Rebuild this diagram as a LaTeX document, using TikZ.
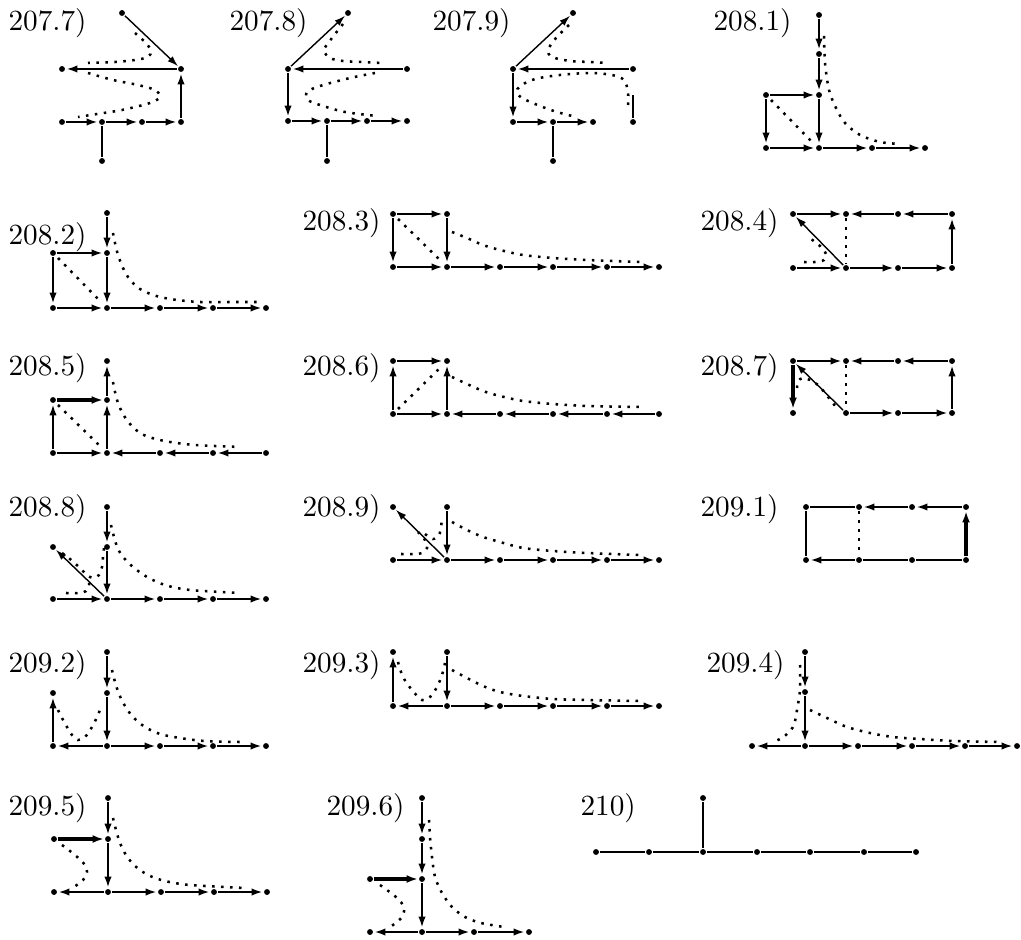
\documentclass[tikz,border=0pt]{standalone}
\usepackage{fontspec}
\usepackage{tikz}
\usetikzlibrary{arrows.meta}

\begin{document}
\begin{tikzpicture}[
  x=0.125mm, y=-0.125mm,
  pt/.style   = {circle, fill=black, inner sep=0pt, minimum size=2.1pt, outer sep=0.4pt},
  lab/.style  = {anchor=base west, inner sep=0pt, font=\fontsize{10.4}{12}\selectfont},
  arr/.style  = {-{Latex[length=4pt,width=2.6pt]}, line width=1.05pt},
  harr/.style = {-{Latex[length=4pt,width=2.8pt]}, line width=1.4pt},
  tarr/.style = {-{Latex[length=3.8pt,width=2.5pt]}, line width=0.5pt},
  ln/.style   = {line width=1.05pt},
  dots/.style = {line width=0.9pt, dash pattern=on 0.9pt off 2.3pt}
]
\useasboundingbox (0,0) rectangle (1021,940);

%% 207.7
\node[lab] (t77) at (8,31) {207.7)};
\node[pt] (A1) at (122,13) {};
\node[pt] (A2) at (62,69) {};  \node[pt] (A3) at (181,69) {};
\node[pt] (A4) at (62,122) {}; \node[pt] (A5) at (102,122) {};
\node[pt] (A6) at (142,122) {}; \node[pt] (A7) at (181,122) {};
\node[pt] (A8) at (102,161) {};
\draw[tarr] (A1) -- (A3);
\draw[arr] (A3) -- (A2);
\draw[arr] (A7) -- (A3);
\draw[arr] (A4) -- (A5);
\draw[arr] (A5) -- (A6);
\draw[arr] (A6) -- (A7);
\draw[ln] (A5) -- (A8);
\draw[dots] plot[smooth] coordinates {(135,33) (146,43) (151,51) (148,57) (135,60) (115,62) (88,63)};
\draw[dots] plot[smooth] coordinates {(88,73) (113,80) (138,85) (155,90) (160,97) (150,103) (122,110) (97,114) (78,117)};

%% 207.8
\node[lab] (t78) at (229,31) {207.8)};
\node[pt] (B1) at (348,13) {};
\node[pt] (B2) at (288,69) {};  \node[pt] (B3) at (407,69) {};
\node[pt] (B4) at (288,121) {}; \node[pt] (B5) at (327,121) {};
\node[pt] (B6) at (367,121) {}; \node[pt] (B7) at (407,121) {};
\node[pt] (B8) at (327,161) {};
\draw[tarr] (B2) -- (B1);
\draw[arr] (B3) -- (B2);
\draw[arr] (B2) -- (B4);
\draw[arr] (B4) -- (B5);
\draw[arr] (B5) -- (B6);
\draw[arr] (B6) -- (B7);
\draw[ln] (B5) -- (B8);
\draw[dots] plot[smooth] coordinates {(343,24) (332,38) (324,50) (330,58) (343,61) (362,62) (382,63)};
\draw[dots] plot[smooth] coordinates {(375,73) (350,78) (320,86) (307,92) (308,100) (320,105) (345,112) (377,116)};

%% 207.9
\node[lab] (t79) at (432,31) {207.9)};
\node[pt] (C1) at (573,13) {};
\node[pt] (C2) at (513,69) {};  \node[pt] (C3) at (633,69) {};
\node[pt] (C4) at (513,122) {}; \node[pt] (C5) at (553,122) {};
\node[pt] (C6) at (593,122) {}; \node[pt] (C8) at (633,122) {};
\node[pt] (C7) at (553,161) {};
\coordinate (C9) at (633,95);
\draw[tarr] (C2) -- (C1);
\draw[arr] (C3) -- (C2);
\draw[arr] (C2) -- (C4);
\draw[arr] (C4) -- (C5);
\draw[arr] (C5) -- (C6);
\draw[ln] (C5) -- (C7);
\draw[ln] (C8) -- (C9);
\draw[dots] plot[smooth] coordinates {(569,25) (556,38) (548,50) (552,57) (570,61) (590,62) (607,63)};
\draw[dots] plot[smooth] coordinates {(628,105) (628,92) (624,80) (612,75) (590,73) (560,75) (535,79) (520,86) (517,92) (522,98) (540,106) (557,112) (572,116)};

%% 208.1
\node[lab] (t81) at (713,31) {208.1)};
\node[pt] (D1) at (819,15) {};
\node[pt] (D2) at (819,54) {};
\node[pt] (D4) at (766,95) {};  \node[pt] (D3) at (819,95) {};
\node[pt] (D5) at (766,148) {}; \node[pt] (D6) at (819,148) {};
\node[pt] (D7) at (872,148) {}; \node[pt] (D8) at (925,148) {};
\draw[arr] (D1) -- (D2);
\draw[arr] (D2) -- (D3);
\draw[arr] (D3) -- (D6);
\draw[arr] (D4) -- (D3);
\draw[arr] (D4) -- (D5);
\draw[arr] (D5) -- (D6);
\draw[arr] (D6) -- (D7);
\draw[arr] (D7) -- (D8);
\draw[dots] (771,100) -- (813,143);
\draw[dots] plot[smooth] coordinates {(824,36) (825,63) (829,90) (836,108) (845,123) (860,135) (880,142) (900,144)};

%% 208.2
\node[lab] (t82) at (8,245) {208.2)};
\node[pt] (E1) at (107,213) {};
\node[pt] (E3) at (53,253) {};  \node[pt] (E2) at (107,253) {};
\node[pt] (E4) at (53,308) {};  \node[pt] (E5) at (107,308) {};
\node[pt] (E6) at (160,308) {}; \node[pt] (E7) at (213,308) {};
\node[pt] (E8) at (266,308) {};
\draw[arr] (E1) -- (E2);
\draw[arr] (E2) -- (E5);
\draw[arr] (E3) -- (E2);
\draw[arr] (E3) -- (E4);
\draw[arr] (E4) -- (E5);
\draw[arr] (E5) -- (E6);
\draw[arr] (E6) -- (E7);
\draw[arr] (E7) -- (E8);
\draw[dots] (58,258) -- (102,303);
\draw[dots] plot[smooth] coordinates {(113,233) (115,243) (118,255) (123,268) (128,277) (137,287) (148,293) (160,297) (177,300) (200,302) (233,302) (258,302)};

%% 208.3
\node[lab] (t83) at (302,231) {208.3)};
\node[pt] (F1) at (393,214) {}; \node[pt] (F2) at (447,214) {};
\node[pt] (F3) at (393,267) {}; \node[pt] (F4) at (447,267) {};
\node[pt] (F5) at (500,267) {}; \node[pt] (F6) at (553,267) {};
\node[pt] (F7) at (607,267) {}; \node[pt] (F8) at (659,267) {};
\draw[arr] (F1) -- (F2);
\draw[arr] (F1) -- (F3);
\draw[arr] (F2) -- (F4);
\draw[arr] (F3) -- (F4);
\draw[arr] (F4) -- (F5);
\draw[arr] (F5) -- (F6);
\draw[arr] (F6) -- (F7);
\draw[arr] (F7) -- (F8);
\draw[dots] (398,219) -- (442,262);
\draw[dots] plot[smooth] coordinates {(452,232) (467,238) (483,245) (500,250) (523,255) (553,258) (587,260) (640,262)};

%% 208.4
\node[lab] (t84) at (700,231) {208.4)};
\node[pt] (G1) at (793,214) {}; \node[pt] (G2) at (846,214) {};
\node[pt] (G3) at (898,214) {}; \node[pt] (G4) at (952,214) {};
\node[pt] (G5) at (793,268) {}; \node[pt] (G6) at (846,268) {};
\node[pt] (G7) at (898,268) {}; \node[pt] (G8) at (952,268) {};
\draw[arr] (G1) -- (G2);
\draw[arr] (G3) -- (G2);
\draw[arr] (G4) -- (G3);
\draw[arr] (G8) -- (G4);
\draw[arr] (G5) -- (G6);
\draw[arr] (G6) -- (G7);
\draw[arr] (G7) -- (G8);
\draw[tarr] (G6) -- (G1);
\draw[dots] (G2) -- (G6);
\draw[dots] plot[smooth] coordinates {(804,262) (815,262) (824,260) (826,254) (820,246) (811,239)};

%% 208.5
\node[lab] (t85) at (8,376) {208.5)};
\node[pt] (H1) at (107,361) {};
\node[pt] (H3) at (53,400) {};  \node[pt] (H2) at (107,400) {};
\node[pt] (H4) at (53,453) {};  \node[pt] (H5) at (107,453) {};
\node[pt] (H6) at (160,453) {}; \node[pt] (H7) at (213,453) {};
\node[pt] (H8) at (266,453) {};
\draw[arr] (H2) -- (H1);
\draw[arr] (H5) -- (H2);
\draw[harr] (H3) -- (H2);
\draw[arr] (H4) -- (H3);
\draw[arr] (H4) -- (H5);
\draw[arr] (H6) -- (H5);
\draw[arr] (H7) -- (H6);
\draw[arr] (H8) -- (H7);
\draw[dots] (58,405) -- (102,448);
\draw[dots] plot[smooth] coordinates {(113,382) (115,392) (118,403) (123,414) (130,424) (140,433) (152,438) (170,442) (195,445) (240,447)};

%% 208.6
\node[lab] (t86) at (302,376) {208.6)};
\node[pt] (I1) at (393,361) {}; \node[pt] (I2) at (447,361) {};
\node[pt] (I3) at (393,414) {}; \node[pt] (I4) at (447,414) {};
\node[pt] (I5) at (500,414) {}; \node[pt] (I6) at (553,414) {};
\node[pt] (I7) at (607,414) {}; \node[pt] (I8) at (659,414) {};
\draw[arr] (I1) -- (I2);
\draw[arr] (I3) -- (I1);
\draw[arr] (I4) -- (I2);
\draw[arr] (I3) -- (I4);
\draw[arr] (I5) -- (I4);
\draw[arr] (I6) -- (I5);
\draw[arr] (I7) -- (I6);
\draw[arr] (I8) -- (I7);
\draw[dots] (398,409) -- (442,366);
\draw[dots] plot[smooth] coordinates {(452,377) (467,384) (483,391) (500,396) (523,401) (553,404) (587,406) (640,407)};

%% 208.7
\node[lab] (t87) at (700,376) {208.7)};
\node[pt] (J1) at (793,361) {}; \node[pt] (J2) at (846,361) {};
\node[pt] (J3) at (898,361) {}; \node[pt] (J4) at (952,361) {};
\node[pt] (J5) at (793,413) {}; \node[pt] (J6) at (846,413) {};
\node[pt] (J7) at (898,413) {}; \node[pt] (J8) at (952,413) {};
\draw[arr] (J1) -- (J2);
\draw[arr] (J3) -- (J2);
\draw[arr] (J4) -- (J3);
\draw[harr] (J1) -- (J5);
\draw[arr] (J8) -- (J4);
\draw[arr] (J6) -- (J7);
\draw[arr] (J7) -- (J8);
\draw[tarr] (J6) -- (J1);
\draw[dots] (J2) -- (J6);
\draw[dots] plot[smooth] coordinates {(797,388) (798,381) (803,378) (810,380) (818,385) (825,393) (832,402) (836,407)};

%% 208.8
\node[lab] (t88) at (8,517) {208.8)};
\node[pt] (K1) at (107,507) {};
\node[pt] (K3) at (53,547) {};  \node[pt] (K2) at (107,547) {};
\node[pt] (K4) at (53,599) {};  \node[pt] (K5) at (107,599) {};
\node[pt] (K6) at (160,599) {}; \node[pt] (K7) at (213,599) {};
\node[pt] (K8) at (266,599) {};
\draw[arr] (K1) -- (K2);
\draw[arr] (K2) -- (K5);
\draw[tarr] (K5) -- (K3);
\draw[arr] (K4) -- (K5);
\draw[arr] (K5) -- (K6);
\draw[arr] (K6) -- (K7);
\draw[arr] (K7) -- (K8);
\draw[dots] plot[smooth] coordinates {(66,593) (80,593) (86,591) (89,586) (89,581)};
\draw[dots] plot[smooth] coordinates {(62,553) (70,559) (80,568) (87,575) (93,578) (99,575) (102,567) (103,557) (104,548)};
\draw[dots] plot[smooth] coordinates {(111,525) (114,537) (118,549) (124,558) (133,567) (147,577) (165,585) (190,590) (240,593)};

%% 208.9
\node[lab] (t89) at (302,517) {208.9)};
\node[pt] (L1) at (393,507) {}; \node[pt] (L2) at (447,507) {};
\node[pt] (L3) at (393,560) {}; \node[pt] (L4) at (447,560) {};
\node[pt] (L5) at (500,560) {}; \node[pt] (L6) at (553,560) {};
\node[pt] (L7) at (607,560) {}; \node[pt] (L8) at (659,560) {};
\draw[arr] (L2) -- (L4);
\draw[tarr] (L4) -- (L1);
\draw[arr] (L3) -- (L4);
\draw[arr] (L4) -- (L5);
\draw[arr] (L5) -- (L6);
\draw[arr] (L6) -- (L7);
\draw[arr] (L7) -- (L8);
\draw[dots] plot[smooth] coordinates {(401,554) (415,554) (422,553) (427,548) (425,540) (418,532)};
\draw[dots] plot[smooth] coordinates {(425,534) (433,539) (439,535) (441,527) (442,518)};
\draw[dots] plot[smooth] coordinates {(452,522) (467,530) (483,537) (500,542) (523,548) (553,551) (587,553) (640,555)};

%% 209.1
\node[lab] (t91) at (700,517) {209.1)};
\node[pt] (M1) at (806,507) {}; \node[pt] (M2) at (859,507) {};
\node[pt] (M3) at (912,507) {}; \node[pt] (M4) at (966,507) {};
\node[pt] (M5) at (806,560) {}; \node[pt] (M6) at (859,560) {};
\node[pt] (M7) at (912,560) {}; \node[pt] (M8) at (966,560) {};
\draw[ln] (M1) -- (M2);
\draw[arr] (M3) -- (M2);
\draw[arr] (M4) -- (M3);
\draw[ln] (M1) -- (M5);
\draw[harr] (M8) -- (M4);
\draw[arr] (M6) -- (M5);
\draw[ln] (M6) -- (M7);
\draw[ln] (M7) -- (M8);
\draw[dots] (M2) -- (M6);

%% 209.2
\node[lab] (t92) at (8,672) {209.2)};
\node[pt] (N1) at (107,652) {};
\node[pt] (N3) at (53,693) {};  \node[pt] (N2) at (107,693) {};
\node[pt] (N4) at (53,746) {};  \node[pt] (N5) at (107,746) {};
\node[pt] (N6) at (160,746) {}; \node[pt] (N7) at (213,746) {};
\node[pt] (N8) at (266,746) {};
\draw[arr] (N1) -- (N2);
\draw[arr] (N2) -- (N5);
\draw[arr] (N4) -- (N3);
\draw[arr] (N5) -- (N4);
\draw[arr] (N5) -- (N6);
\draw[arr] (N6) -- (N7);
\draw[arr] (N7) -- (N8);
\draw[dots] plot[smooth] coordinates {(58,710) (62,718) (67,727) (72,735) (78,740) (85,737) (92,727) (97,717) (102,705)};
\draw[dots] plot[smooth] coordinates {(112,670) (115,682) (119,694) (125,706) (133,717) (145,727) (160,734) (180,738) (205,741) (240,742)};

%% 209.3
\node[lab] (t93) at (302,672) {209.3)};
\node[pt] (O1) at (393,652) {}; \node[pt] (O2) at (447,652) {};
\node[pt] (O3) at (393,706) {}; \node[pt] (O4) at (447,706) {};
\node[pt] (O5) at (500,706) {}; \node[pt] (O6) at (553,706) {};
\node[pt] (O7) at (607,706) {}; \node[pt] (O8) at (659,706) {};
\draw[arr] (O3) -- (O1);
\draw[arr] (O2) -- (O4);
\draw[arr] (O4) -- (O3);
\draw[arr] (O4) -- (O5);
\draw[arr] (O5) -- (O6);
\draw[arr] (O6) -- (O7);
\draw[arr] (O7) -- (O8);
\draw[dots] plot[smooth] coordinates {(398,662) (403,677) (412,690) (422,700) (430,697) (437,687) (442,675) (445,663)};
\draw[dots] plot[smooth] coordinates {(452,670) (467,678) (483,686) (500,692) (523,696) (553,699) (587,700) (640,701)};

%% 209.4
\node[lab] (t94) at (706,672) {209.4)};
\node[pt] (P1) at (805,652) {};
\node[pt] (P2) at (805,692) {};
\node[pt] (P3) at (752,746) {}; \node[pt] (P4) at (805,746) {};
\node[pt] (P5) at (858,746) {}; \node[pt] (P6) at (912,746) {};
\node[pt] (P7) at (965,746) {}; \node[pt] (P8) at (1017,746) {};
\draw[arr] (P1) -- (P2);
\draw[arr] (P2) -- (P4);
\draw[arr] (P4) -- (P3);
\draw[arr] (P4) -- (P5);
\draw[arr] (P5) -- (P6);
\draw[arr] (P6) -- (P7);
\draw[arr] (P7) -- (P8);
\draw[dots] plot[smooth] coordinates {(800,665) (800,690) (797,710) (794,725) (788,733) (782,738) (773,742)};
\draw[dots] plot[smooth] coordinates {(810,710) (827,718) (847,727) (870,733) (893,737) (920,739) (953,741) (1000,742)};

%% 209.5
\node[lab] (t95) at (8,815) {209.5)};
\node[pt] (Q1) at (108,798) {};
\node[pt] (Q3) at (54,839) {};  \node[pt] (Q2) at (108,839) {};
\node[pt] (Q4) at (54,892) {};  \node[pt] (Q5) at (108,892) {};
\node[pt] (Q6) at (161,892) {}; \node[pt] (Q7) at (214,892) {};
\node[pt] (Q8) at (267,892) {};
\draw[arr] (Q1) -- (Q2);
\draw[arr] (Q2) -- (Q5);
\draw[harr] (Q3) -- (Q2);
\draw[arr] (Q5) -- (Q4);
\draw[arr] (Q5) -- (Q6);
\draw[arr] (Q6) -- (Q7);
\draw[arr] (Q7) -- (Q8);
\draw[dots] plot[smooth] coordinates {(62,845) (75,855) (85,865) (87,872) (83,880) (74,887)};
\draw[dots] plot[smooth] coordinates {(113,818) (116,830) (120,843) (126,855) (135,866) (148,875) (165,881) (190,885) (245,888)};

%% 209.6
\node[lab] (t96) at (326,815) {209.6)};
\node[pt] (R1) at (422,798) {};
\node[pt] (R2) at (422,839) {};
\node[pt] (R4) at (370,879) {}; \node[pt] (R3) at (422,879) {};
\node[pt] (R5) at (370,932) {}; \node[pt] (R6) at (422,932) {};
\node[pt] (R7) at (474,932) {}; \node[pt] (R8) at (529,932) {};
\draw[arr] (R1) -- (R2);
\draw[arr] (R2) -- (R3);
\draw[arr] (R3) -- (R6);
\draw[harr] (R4) -- (R3);
\draw[arr] (R6) -- (R5);
\draw[arr] (R6) -- (R7);
\draw[arr] (R7) -- (R8);
\draw[dots] plot[smooth] coordinates {(380,885) (396,897) (404,907) (402,917) (393,925) (389,928)};
\draw[dots] plot[smooth] coordinates {(429,820) (430,837) (432,857) (435,877) (442,893) (452,907) (465,917) (481,923) (504,927)};

%% 210
\node[lab] (t10) at (580,815) {210)};
\node[pt] (S1) at (703,798) {};
\node[pt] (S2) at (596,852) {}; \node[pt] (S3) at (649,852) {};
\node[pt] (S4) at (703,852) {}; \node[pt] (S5) at (757,852) {};
\node[pt] (S6) at (810,852) {}; \node[pt] (S7) at (864,852) {};
\node[pt] (S8) at (916,852) {};
\draw[ln] (S1) -- (S4);
\draw[ln] (S2) -- (S3) -- (S4) -- (S5) -- (S6) -- (S7) -- (S8);
\end{tikzpicture}
\end{document}
